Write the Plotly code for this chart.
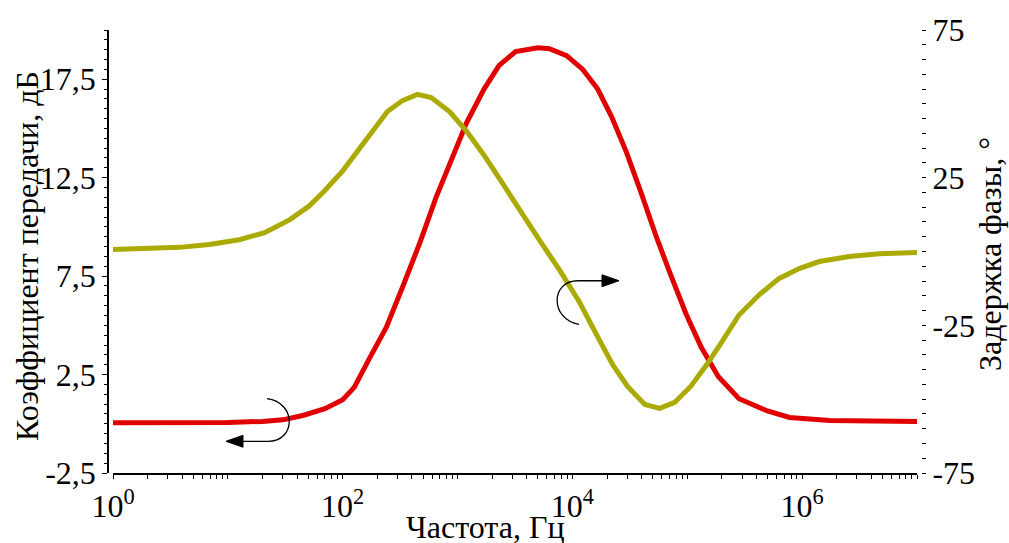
import plotly.graph_objects as go

# ---- data ----
freq_gain = [1, 3, 10, 20, 30, 45, 70, 100, 126, 170, 240, 340, 470, 650, 890,
             1200, 1700, 2300, 3200, 5000, 6300, 8900, 12300, 16600, 21900,
             29500, 39800, 53700, 72400, 98000, 132000, 186000, 282000, 490000,
             776000, 1740000, 10000000]
gain_db = [0.05, 0.05, 0.07, 0.12, 0.2, 0.42, 0.77, 1.22, 1.85, 3.3, 4.9, 7.1, 9.2,
           11.5, 13.5, 15.3, 17.0, 18.2, 18.9, 19.1, 19.05, 18.7, 18.0, 17.0,
           15.6, 13.8, 11.7, 9.5, 7.5, 5.55, 3.9, 2.4, 1.27, 0.67, 0.32, 0.17, 0.12]

freq_phase = [1, 2.1, 3.8, 6.9, 12.6, 20.9, 34.7, 51.3, 69.2, 100, 141, 191, 245,
              331, 447, 589, 851, 1200, 1700, 2450, 3470, 5130, 7760, 11500,
              16600, 22400, 30200, 42700, 57500, 77600, 107000, 148000, 200000,
              282000, 427000, 631000, 955000, 1410000, 2570000, 4680000, 10000000]
phase_deg = [0.7, 0.9, 1.4, 2.4, 4.0, 6.4, 10.8, 15.5, 20.5, 27.3, 35.0, 42.0,
             47.4, 51.1, 53.2, 52.1, 47.4, 40.7, 32.6, 23.2, 13.8, 4.0, -6.4, -17.1,
             -28.9, -38.3, -45.7, -51.8, -53.1, -51.1, -45.7, -38.3, -30.6, -21.5,
             -14.5, -9.1, -5.7, -3.4, -1.7, -0.8, -0.3]

x_tickvals = [1, 100, 10000, 1000000]
x_ticktext = ["10<sup>0</sup>", "10<sup>2</sup>", "10<sup>4</sup>", "10<sup>6</sup>"]
y1_tickvals = [-2.5, 2.5, 7.5, 12.5, 17.5]
y1_ticktext = ["-2,5", "2,5", "7,5", "12,5", "17,5"]
y2_tickvals = [-75, -25, 25, 75]
y2_ticktext = ["-75", "-25", "25", "75"]

W, H = 1009, 543
L, R, T, B = 108, 88, 26, 70
PW, PH = W - L - R, H - T - B
FONT = "Liberation Serif, Times New Roman, serif"
FS = 32


def px(x):
    return (x - L) / PW


def py(y):
    return (H - B - y) / PH


fig = go.Figure()
fig.add_trace(go.Scatter(x=freq_gain, y=gain_db, mode="lines",
                         line=dict(color="#e00000", width=5), yaxis="y"))
fig.add_trace(go.Scatter(x=freq_phase, y=phase_deg, mode="lines",
                         line=dict(color="#aaaa00", width=5), yaxis="y2"))


def path(cmds):
    out = []
    for c in cmds:
        if isinstance(c, str):
            out.append(c)
        else:
            out.append(f"{px(c[0]):.5f},{py(c[1]):.5f}")
    return " ".join(out)


arc1 = path(["M", (267, 398), "C", (297, 402), (296, 441), (268, 441), "L", (240, 441)])
head1 = path(["M", (226, 441), "L", (243, 435), "L", (243, 447), "Z"])
arc2 = path(["M", (579, 323), "C", (550, 318), (550, 279), (578, 279), "L", (605, 279)])
head2 = path(["M", (619, 279), "L", (602, 273), "L", (602, 285), "Z"])
for p in (arc1, arc2):
    fig.add_shape(type="path", path=p, xref="paper", yref="paper",
                  line=dict(color="black", width=1.3))
for p in (head1, head2):
    fig.add_shape(type="path", path=p, xref="paper", yref="paper",
                  line=dict(color="black", width=1), fillcolor="black")

tickfont = dict(family=FONT, size=FS, color="black")

fig.update_layout(
    width=W, height=H,
    margin=dict(l=L, r=R, t=T, b=B),
    paper_bgcolor="white", plot_bgcolor="white",
    showlegend=False,
    font=dict(family=FONT, color="black"),
    xaxis=dict(type="log", range=[0, 7],
               domain=[px(113), px(917)],
               tickmode="array", tickvals=x_tickvals, ticktext=x_ticktext,
               ticks="outside", ticklen=4, tickwidth=1, tickcolor="black",
               showline=True, linecolor="black", linewidth=1.5,
               showgrid=False, zeroline=False, tickfont=tickfont,
               minor=dict(ticks="outside", ticklen=4, tickwidth=1,
                          tickcolor="black", dtick="D1", showgrid=False),
               anchor="y"),
    yaxis=dict(range=[-2.5, 20], anchor="free", position=0,
               tickmode="array", tickvals=y1_tickvals, ticktext=y1_ticktext,
               ticks="outside", ticklen=5, tickwidth=1.2, tickcolor="black",
               showline=True, linecolor="black", linewidth=1.5,
               showgrid=False, zeroline=False, tickfont=tickfont,
               minor=dict(ticks="outside", ticklen=3, tickwidth=1,
                          tickcolor="black", dtick=0.5, tick0=0, showgrid=False)),
    yaxis2=dict(range=[-75, 75], overlaying="y", side="right",
                anchor="free", position=1,
                tickmode="array", tickvals=y2_tickvals, ticktext=y2_ticktext,
                ticks="outside", ticklen=4, tickwidth=1.2, tickcolor="black",
                showline=False, showgrid=False, zeroline=False, tickfont=tickfont,
                minor=dict(ticks="outside", ticklen=4, tickwidth=1.2,
                           tickcolor="black", dtick=5, tick0=0, showgrid=False)),
    annotations=[
        dict(text="Частота, Гц", xref="paper", yref="paper",
             x=px(485), y=py(527), xanchor="center", yanchor="middle",
             showarrow=False, font=dict(family=FONT, size=FS, color="black")),
        dict(text="Коэффициент передачи, дБ", xref="paper", yref="paper",
             x=px(27), y=py(254), xanchor="center", yanchor="middle",
             textangle=-90, showarrow=False,
             font=dict(family=FONT, size=FS, color="black")),
        dict(text="Задержка фазы, °", xref="paper", yref="paper",
             x=px(990), y=py(252), xanchor="center", yanchor="middle",
             textangle=-90, showarrow=False,
             font=dict(family=FONT, size=FS, color="black")),
    ],
)

fig.write_html("out.html", config={"displayModeBar": False},
               post_script="document.body.style.margin='0';document.body.style.overflow='hidden';")
